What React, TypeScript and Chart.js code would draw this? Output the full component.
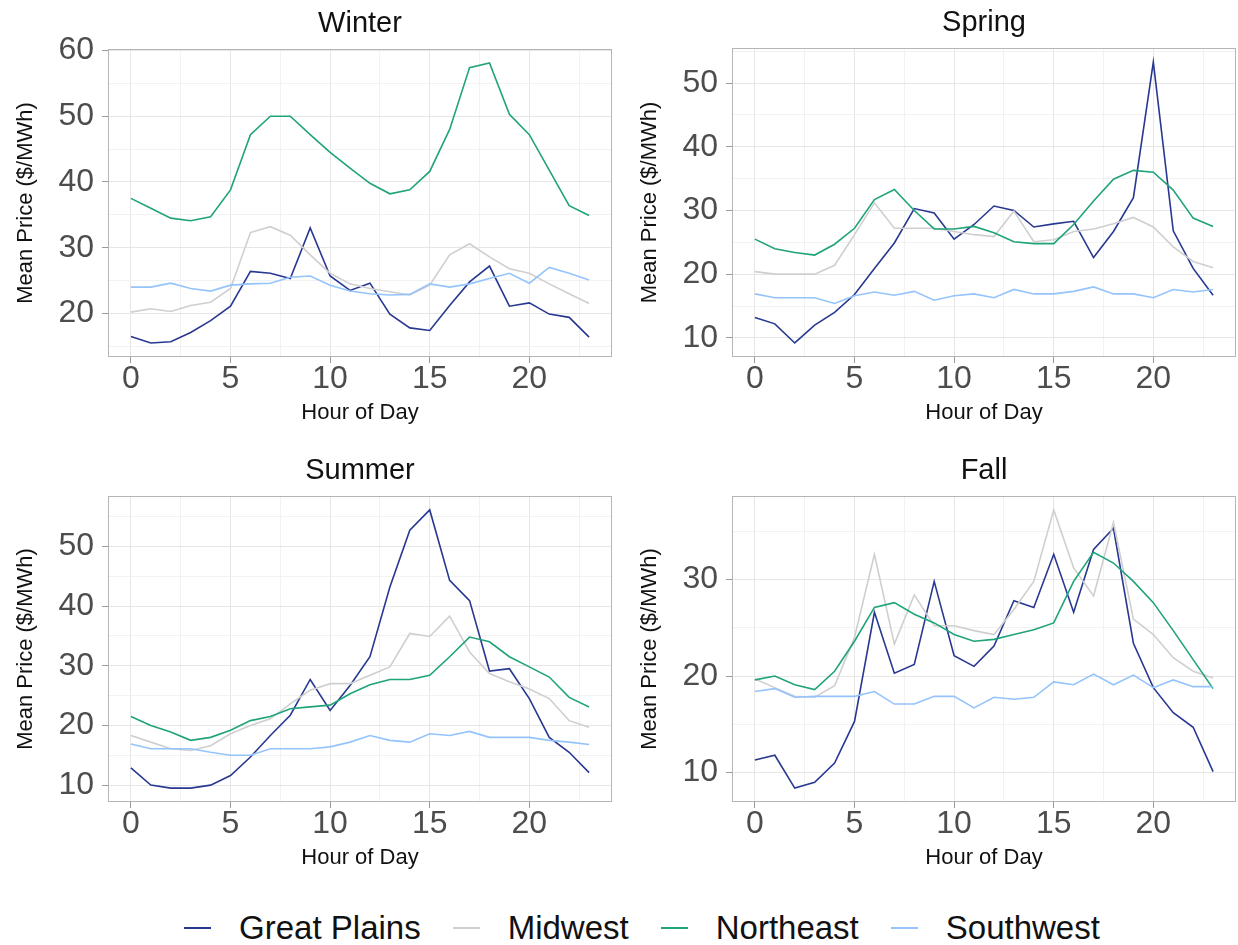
import React, { useEffect, useRef } from "react";
import { Chart, registerables } from "chart.js";

Chart.register(...registerables);

// ---------------- data ----------------
const hours = [0, 1, 2, 3, 4, 5, 6, 7, 8, 9, 10, 11, 12, 13, 14, 15, 16, 17, 18, 19, 20, 21, 22, 23];
const regionNames = ["Great Plains", "Midwest", "Northeast", "Southwest"];
const regionColors = ["#283891", "#cfcfcf", "#1fa37b", "#94c4fb"];

const winterGreatPlains = [16.5, 15.5, 15.7, 17.1, 18.9, 21.1, 26.4, 26.1, 25.3, 33.0, 25.7, 23.5, 24.6, 19.9, 17.8, 17.4, 21.2, 24.8, 27.2, 21.1, 21.6, 19.9, 19.4, 16.4];
const winterMidwest = [20.2, 20.7, 20.3, 21.2, 21.7, 23.8, 32.3, 33.2, 31.9, 28.9, 26.1, 24.5, 23.8, 23.3, 22.8, 24.3, 28.9, 30.6, 28.6, 26.8, 26.1, 24.5, 23.0, 21.5];
const winterNortheast = [37.5, 36.0, 34.5, 34.1, 34.7, 38.8, 47.2, 50.0, 50.0, 47.2, 44.5, 42.1, 39.8, 38.2, 38.8, 41.6, 48.0, 57.4, 58.1, 50.3, 47.2, 41.8, 36.4, 34.9];
const winterSouthwest = [24.0, 24.0, 24.6, 23.8, 23.4, 24.3, 24.5, 24.6, 25.5, 25.7, 24.3, 23.4, 23.0, 22.8, 22.9, 24.5, 24.0, 24.5, 25.3, 26.1, 24.6, 27.0, 26.1, 25.1];

const springGreatPlains = [13.2, 12.2, 9.2, 12.0, 14.0, 16.8, 20.9, 24.9, 30.3, 29.6, 25.5, 27.8, 30.7, 30.0, 27.4, 27.9, 28.3, 22.6, 26.7, 32.0, 53.3, 26.8, 20.9, 16.7];
const springMidwest = [20.4, 20.0, 20.0, 20.0, 21.4, 26.2, 31.2, 27.2, 27.2, 27.2, 26.7, 26.2, 25.9, 29.9, 25.1, 25.4, 26.7, 27.1, 27.9, 28.9, 27.4, 24.3, 22.0, 21.0];
const springNortheast = [25.5, 24.0, 23.4, 23.0, 24.7, 27.2, 31.7, 33.3, 30.0, 27.1, 27.1, 27.5, 26.5, 25.1, 24.8, 24.8, 27.8, 31.5, 34.9, 36.3, 36.0, 33.2, 28.8, 27.5];
const springSouthwest = [16.9, 16.3, 16.3, 16.3, 15.4, 16.6, 17.2, 16.7, 17.3, 15.9, 16.6, 16.9, 16.3, 17.6, 16.9, 16.9, 17.3, 18.0, 16.9, 16.9, 16.3, 17.6, 17.2, 17.6];

const summerGreatPlains = [12.9, 10.0, 9.5, 9.5, 10.0, 11.6, 14.7, 18.3, 21.7, 27.7, 22.5, 26.7, 31.5, 43.2, 52.7, 56.1, 44.3, 40.9, 29.1, 29.5, 24.5, 18.0, 15.5, 12.1];
const summerMidwest = [18.3, 17.2, 16.1, 15.8, 16.6, 18.6, 20.0, 21.1, 23.6, 25.9, 27.0, 27.0, 28.4, 29.8, 35.4, 34.9, 38.3, 32.3, 28.7, 27.3, 26.1, 24.5, 20.8, 19.7];
const summerNortheast = [21.5, 20.0, 18.9, 17.5, 18.0, 19.2, 20.8, 21.5, 22.8, 23.1, 23.4, 25.3, 26.8, 27.7, 27.7, 28.4, 31.5, 34.8, 34.0, 31.5, 29.8, 28.1, 24.7, 23.1];
const summerSouthwest = [16.9, 16.1, 16.1, 16.1, 15.5, 15.0, 15.0, 16.1, 16.1, 16.1, 16.4, 17.2, 18.3, 17.5, 17.2, 18.6, 18.3, 19.0, 18.0, 18.0, 18.0, 17.5, 17.2, 16.8];

const fallGreatPlains = [11.3, 11.8, 8.4, 9.0, 11.0, 15.3, 26.6, 20.3, 21.2, 29.8, 22.1, 21.0, 23.1, 27.8, 27.1, 32.6, 26.6, 33.1, 35.3, 23.4, 18.8, 16.2, 14.7, 10.1];
const fallMidwest = [19.7, 18.8, 17.9, 17.8, 19.0, 24.0, 32.6, 23.3, 28.4, 25.2, 25.2, 24.7, 24.3, 26.9, 29.8, 37.2, 31.2, 28.3, 35.9, 25.9, 24.3, 21.9, 20.5, 19.8];
const fallNortheast = [19.6, 20.0, 19.1, 18.6, 20.5, 23.6, 27.1, 27.6, 26.4, 25.5, 24.3, 23.6, 23.8, 24.3, 24.8, 25.5, 29.8, 32.8, 31.7, 29.8, 27.6, 24.7, 21.7, 18.7];
const fallSouthwest = [18.4, 18.7, 17.8, 17.9, 17.9, 17.9, 18.4, 17.1, 17.1, 17.9, 17.9, 16.7, 17.8, 17.6, 17.8, 19.4, 19.1, 20.2, 19.1, 20.1, 18.8, 19.6, 18.9, 18.9];

const xTickValues = [0, 2.5, 5, 7.5, 10, 12.5, 15, 17.5, 20, 22.5];
const xMajorStep = 5;
const yMajorStep = 10;
const yMinorStep = 5;

const xTitle = "Hour of Day";
const yTitle = "Mean Price ($/MWh)";

// ---------------- styling ----------------
const FONT = "'Liberation Sans', Arial, Helvetica, sans-serif";
const MAJOR_GRID = "#e6e6e6";
const MINOR_GRID = "#f2f2f2";
const BORDER = "#b5b5b5";
const TICK_MARK = "#9a9a9a";
const TICK_TEXT = "#4d4d4d";

const panelBorder = {
  id: "panelBorder",
  afterDatasetsDraw(chart: any) {
    const { ctx, chartArea: a } = chart;
    ctx.save();
    ctx.strokeStyle = BORDER;
    ctx.lineWidth = 1;
    ctx.strokeRect(a.left + 0.5, a.top + 0.5, a.width - 1, a.height - 1);
    ctx.restore();
  },
};

type PanelProps = {
  title: string;
  series: number[][];
  left: number;
  top: number;
  width: number;
  height: number;
  yAxisWidth: number;
  padTop: number;
  padRight: number;
  xAxisHeight: number;
};

function Panel(p: PanelProps) {
  const ref = useRef<HTMLCanvasElement | null>(null);

  useEffect(() => {
    if (!ref.current) return;
    const all = p.series.flat();
    const dMin = Math.min(...all);
    const dMax = Math.max(...all);
    const span = dMax - dMin;
    const yMin = dMin - 0.05 * span;
    const yMax = dMax + 0.05 * span;
    const yTicks: number[] = [];
    for (let v = Math.ceil(yMin / yMinorStep) * yMinorStep; v <= yMax; v += yMinorStep) yTicks.push(v);
    const xMin = hours[0] - 0.05 * (hours[hours.length - 1] - hours[0]);
    const xMax = hours[hours.length - 1] + 0.05 * (hours[hours.length - 1] - hours[0]);

    const isMajorX = (v: number) => Math.abs(v % xMajorStep) < 1e-6;
    const isMajorY = (v: number) => Math.abs(v % yMajorStep) < 1e-6;

    const datasets = p.series.map((vals, i) => ({
      label: regionNames[i],
      data: hours.map((h, j) => ({ x: h, y: vals[j] })),
      borderColor: regionColors[i],
      backgroundColor: regionColors[i],
      borderWidth: 1.6,
      pointRadius: 0,
      tension: 0,
      fill: false,
      order: regionNames.length - i,
    }));

    const chart = new Chart(ref.current, {
      type: "line",
      data: { datasets },
      plugins: [panelBorder],
      options: {
        animation: false,
        responsive: false,
        devicePixelRatio: 1,
        layout: { padding: { top: p.padTop, right: p.padRight, left: 0, bottom: 0 } },
        plugins: { legend: { display: false }, tooltip: { enabled: false }, title: { display: false } },
        scales: {
          x: {
            type: "linear",
            min: xMin,
            max: xMax,
            afterBuildTicks: (axis: any) => {
              axis.ticks = xTickValues.map((v) => ({ value: v }));
            },
            afterFit: (axis: any) => {
              axis.height = p.xAxisHeight;
            },
            ticks: {
              autoSkip: false,
              maxRotation: 0,
              minRotation: 0,
              padding: 0,
              color: TICK_TEXT,
              font: { family: FONT, size: 32, lineHeight: 1 },
              callback: (v: any) => (isMajorX(Number(v)) ? String(v) : ""),
            },
            grid: {
              color: (c: any) => (isMajorX(c.tick.value) ? MAJOR_GRID : MINOR_GRID),
              tickColor: (c: any) => (isMajorX(c.tick.value) ? TICK_MARK : "rgba(0,0,0,0)"),
              tickLength: 6,
              lineWidth: 1,
            },
            border: { display: false },
            title: {
              display: true,
              text: xTitle,
              color: "#111",
              font: { family: FONT, size: 22, lineHeight: 1.2 },
              padding: { top: 0, bottom: p.xAxisHeight - 56 - 13.2 },
            },
          },
          y: {
            type: "linear",
            min: yMin,
            max: yMax,
            afterBuildTicks: (axis: any) => {
              axis.ticks = yTicks.map((v) => ({ value: v }));
            },
            afterFit: (axis: any) => {
              axis.width = p.yAxisWidth;
            },
            ticks: {
              autoSkip: false,
              padding: 8,
              color: TICK_TEXT,
              font: { family: FONT, size: 32, lineHeight: 1 },
              callback: (v: any) => (isMajorY(Number(v)) ? String(v) : ""),
            },
            grid: {
              color: (c: any) => (isMajorY(c.tick.value) ? MAJOR_GRID : MINOR_GRID),
              tickColor: (c: any) => (isMajorY(c.tick.value) ? TICK_MARK : "rgba(0,0,0,0)"),
              tickLength: 6,
              lineWidth: 1,
            },
            border: { display: false },
            title: {
              display: true,
              text: yTitle,
              color: "#111",
              font: { family: FONT, size: 22, lineHeight: 1.2 },
              padding: { top: p.yAxisWidth - 82 - 13.2, bottom: 0 },
            },
          },
        },
      },
    } as any);
    return () => chart.destroy();
  }, []);

  const plotLeft = p.left + p.yAxisWidth;
  const plotWidth = p.width - p.yAxisWidth - p.padRight;

  return (
    <>
      <canvas
        ref={ref}
        width={p.width}
        height={p.height}
        style={{ position: "absolute", left: p.left, top: p.top, width: p.width, height: p.height }}
      />
      <div
        style={{
          position: "absolute",
          left: plotLeft,
          width: plotWidth,
          top: p.top + p.padTop - 27 - 17,
          height: 34,
          lineHeight: "34px",
          fontSize: 29,
          fontFamily: FONT,
          color: "#111",
          textAlign: "center",
          whiteSpace: "nowrap",
        }}
      >
        {p.title}
      </div>
    </>
  );
}

function Legend() {
  return (
    <div
      style={{
        position: "absolute",
        left: 0,
        width: 1238,
        top: 928 - 20,
        height: 40,
        display: "flex",
        justifyContent: "center",
        alignItems: "center",
        fontFamily: FONT,
        fontSize: 33,
        color: "#111",
        paddingLeft: 46,
        boxSizing: "border-box",
      }}
    >
      {regionNames.map((n, i) => (
        <div key={n} style={{ display: "flex", alignItems: "center", marginRight: i < regionNames.length - 1 ? 32 : 0 }}>
          <div style={{ width: 27, height: 2, background: regionColors[i], marginRight: 28 }} />
          <span style={{ lineHeight: "40px", whiteSpace: "nowrap" }}>{n}</span>
        </div>
      ))}
    </div>
  );
}

export default function App() {
  return (
    <div style={{ position: "absolute", left: 0, top: 0, width: 1238, height: 945, background: "#fff", overflow: "hidden" }}>
      <Panel
        title="Winter"
        series={[winterGreatPlains, winterMidwest, winterNortheast, winterSouthwest]}
        left={0}
        top={0}
        width={619}
        height={440}
        yAxisWidth={108}
        padTop={49}
        padRight={7}
        xAxisHeight={83}
      />
      <Panel
        title="Spring"
        series={[springGreatPlains, springMidwest, springNortheast, springSouthwest]}
        left={619}
        top={0}
        width={619}
        height={440}
        yAxisWidth={113}
        padTop={48}
        padRight={2}
        xAxisHeight={83}
      />
      <Panel
        title="Summer"
        series={[summerGreatPlains, summerMidwest, summerNortheast, summerSouthwest]}
        left={0}
        top={446}
        width={619}
        height={440}
        yAxisWidth={108}
        padTop={50}
        padRight={7}
        xAxisHeight={84}
      />
      <Panel
        title="Fall"
        series={[fallGreatPlains, fallMidwest, fallNortheast, fallSouthwest]}
        left={619}
        top={446}
        width={619}
        height={440}
        yAxisWidth={113}
        padTop={50}
        padRight={2}
        xAxisHeight={84}
      />
      <Legend />
    </div>
  );
}
